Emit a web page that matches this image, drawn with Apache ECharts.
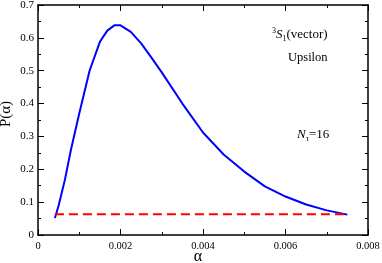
<!DOCTYPE html>
<html><head><meta charset="utf-8">
<script src="https://cdn.jsdelivr.net/npm/echarts@6/dist/echarts.min.js"></script>
<style>html,body{margin:0;padding:0;background:#fff}#c{width:382px;height:263px}</style>
</head><body><div id="c"></div>
<script>
var alpha = [0.00041,0.0005,0.00065,0.0008,0.001,0.00125,0.0015,0.00168,0.00185,0.002,0.00225,0.0025,0.00275,0.003,0.0035,0.004,0.0045,0.005,0.0055,0.006,0.0065,0.007,0.0075];
var prob  = [0.052,0.09,0.167,0.26,0.37,0.50,0.588,0.622,0.638,0.638,0.618,0.583,0.54,0.495,0.40,0.312,0.245,0.193,0.148,0.117,0.093,0.075,0.062];
var refAlpha = [0.00041,0.0075];
var refP = [0.063,0.063];
var xTicks = [0,0.002,0.004,0.006,0.008];
var yTicks = [0,0.1,0.2,0.3,0.4,0.5,0.6,0.7];

var F = '"Liberation Serif","DejaVu Serif",serif';
var chart = echarts.init(document.getElementById('c'));
function axisBase(){
  return {
    axisLine:{show:true,onZero:false,lineStyle:{color:'#000',width:1.5}},
    axisTick:{show:true,inside:true,length:6,lineStyle:{color:'#000',width:1}},
    minorTick:{show:true,splitNumber:2,length:3,lineStyle:{color:'#000',width:1}},
    splitLine:{show:false}
  };
}
var xb = Object.assign(axisBase(),{type:'value',min:xTicks[0],max:xTicks[xTicks.length-1],interval:0.002,
  axisLabel:{fontFamily:F,fontSize:10.5,color:'#000',margin:6,formatter:function(v){return String(+v.toFixed(3));}},
  name:'\u03b1',nameLocation:'middle',nameGap:14,nameMoveOverlap:false,nameTextStyle:{fontFamily:F,fontSize:16,color:'#000',padding:[0,10,0,0]}});
var xt = Object.assign(axisBase(),{type:'value',position:'top',min:0,max:0.008,interval:0.002,axisLabel:{show:false}});
var yl = Object.assign(axisBase(),{type:'value',min:yTicks[0],max:yTicks[yTicks.length-1],interval:0.1,
  axisLabel:{fontFamily:F,fontSize:11,color:'#000',margin:4,formatter:function(v){return String(+v.toFixed(1));}},
  name:'P(\u03b1)',nameLocation:'middle',nameGap:24,nameMoveOverlap:false,nameTextStyle:{fontFamily:F,fontSize:15,color:'#000',padding:[0,0,0,12]}});
var yr = Object.assign(axisBase(),{type:'value',position:'right',min:0,max:0.7,interval:0.1,axisLabel:{show:false}});

chart.setOption({
  animation:false,
  grid:{left:38,right:14,top:5,bottom:28,containLabel:false,outerBoundsMode:'none'},
  xAxis:[xb,xt],
  yAxis:[yl,yr],
  series:[
    {type:'line',data:alpha.map(function(a,i){return [a,prob[i]];}),showSymbol:false,smooth:false,
     lineStyle:{color:'#0000ff',width:2},itemStyle:{color:'#0000ff'}},
    {type:'line',data:refAlpha.map(function(a,i){return [a,refP[i]];}),showSymbol:false,
     lineStyle:{color:'#ff0000',width:2,type:[9,5]},itemStyle:{color:'#ff0000'}}
  ],
  graphic:[
    {type:'text',left:272,top:27,style:{rich:{s:{fontFamily:F,fontSize:8,verticalAlign:'top',padding:[0,0,6,0]},i:{fontFamily:F,fontSize:13,fontStyle:'italic'},b:{fontFamily:F,fontSize:8,padding:[8,0,0,0]},n:{fontFamily:F,fontSize:13}},
      text:'{s|3}{i|S}{b|1}{n|(vector)}',fill:'#000'}},
    {type:'text',left:288,top:51,style:{text:'Upsilon',fontFamily:F,fontSize:12.5,fill:'#000'}},
    {type:'text',left:297,top:128,style:{rich:{i:{fontFamily:F,fontSize:13,fontStyle:'italic'},b:{fontFamily:F,fontSize:8,padding:[8,0,0,0]},n:{fontFamily:F,fontSize:13}},
      text:'{i|N}{b|\u03c4}{n|=16}',fill:'#000'}}
  ]
});
</script></body></html>
